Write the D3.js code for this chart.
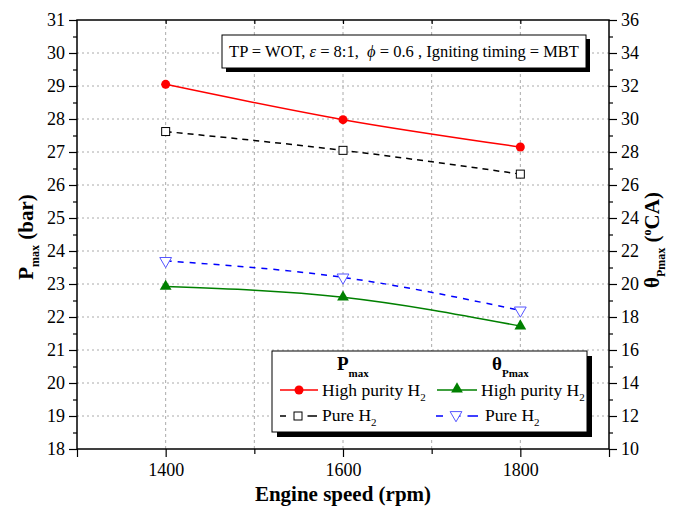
<!DOCTYPE html>
<html><head><meta charset="utf-8">
<script src="https://cdn.jsdelivr.net/npm/d3@7"></script>
<style>body{margin:0;background:#fff;} svg text{font-family:"Liberation Serif","Times New Roman",serif !important;}</style>
</head><body>
<svg id="c" width="673" height="506"></svg>
<script>
const speeds = [1400, 1600, 1800];
const pmaxHigh = [29.05, 27.98, 27.15];
const pmaxPure = [27.62, 27.05, 26.33];
const thetaHigh = [19.85, 19.2, 17.45];
const thetaPure = [21.4, 20.4, 18.4];
const xTickLabels = [1400, 1600, 1800];
const leftTicks = d3.range(18, 32, 1);
const rightTicks = d3.range(10, 37, 2);

const svg = d3.select("#c");
const L = 77, R = 609, T = 20, B = 449;
const x = d3.scaleLinear().domain([1300, 1900]).range([L, R]);
const yL = d3.scaleLinear().domain([18, 31]).range([B, T]);
const yR = d3.scaleLinear().domain([10, 36]).range([B, T]);

// grid
const g = svg.append("g");
g.selectAll(".gh").data(d3.range(19, 31)).enter().append("line")
  .attr("x1", L).attr("x2", R).attr("y1", d => yL(d)).attr("y2", d => yL(d))
  .attr("stroke", "#aaa").attr("stroke-width", 1).attr("stroke-dasharray", "2,3");
g.selectAll(".gv").data(d3.range(1400, 1900, 100)).enter().append("line")
  .attr("y1", T).attr("y2", B).attr("x1", d => x(d)).attr("x2", d => x(d))
  .attr("stroke", "#aaa").attr("stroke-width", 1).attr("stroke-dasharray", "3,3");

// annotation box
const ab = {x: 222, y: 35, w: 364, h: 33};
svg.append("rect").attr("x", ab.x + 4).attr("y", ab.y + 4).attr("width", ab.w).attr("height", ab.h).attr("fill", "#000");
svg.append("rect").attr("x", ab.x).attr("y", ab.y).attr("width", ab.w).attr("height", ab.h).attr("fill", "#fff").attr("stroke", "#000").attr("stroke-width", 1);
const at = svg.append("text").attr("x", ab.x + ab.w / 2).attr("y", ab.y + 22).attr("text-anchor", "middle").attr("font-size", 16.5).attr("xml:space", "preserve").style("white-space", "pre");
at.append("tspan").text("TP = WOT, ");
at.append("tspan").attr("font-style", "italic").text("ε");
at.append("tspan").text(" = 8:1,  ");
at.append("tspan").attr("font-style", "italic").text("ϕ");
at.append("tspan").text(" = 0.6 , Igniting timing = MBT");

// lines
const lineL = d3.line().x((d, i) => x(speeds[i])).y(d => yL(d)).curve(d3.curveMonotoneX);
const lineR = d3.line().x((d, i) => x(speeds[i])).y(d => yR(d)).curve(d3.curveMonotoneX);
svg.append("path").attr("d", lineL(pmaxHigh)).attr("fill", "none").attr("stroke", "#ff0000").attr("stroke-width", 1.5);
svg.append("path").attr("d", lineL(pmaxPure)).attr("fill", "none").attr("stroke", "#000").attr("stroke-width", 1.5).attr("stroke-dasharray", "6,5");
svg.append("path").attr("d", lineR(thetaHigh)).attr("fill", "none").attr("stroke", "#008000").attr("stroke-width", 1.5);
svg.append("path").attr("d", lineR(thetaPure)).attr("fill", "none").attr("stroke", "#0000ff").attr("stroke-width", 1.5).attr("stroke-dasharray", "6,6");

const tri = d3.symbol().type(d3.symbolTriangle).size(60);
function circ(sel, cx, cy) { sel.append("circle").attr("cx", cx).attr("cy", cy).attr("r", 4.5).attr("fill", "#ff0000"); }
function sq(sel, cx, cy) { sel.append("rect").attr("x", cx - 4).attr("y", cy - 4).attr("width", 8).attr("height", 8).attr("fill", "#fff").attr("stroke", "#000").attr("stroke-width", 1); }
function up(sel, cx, cy) { sel.append("path").attr("d", tri()).attr("transform", `translate(${cx},${cy})`).attr("fill", "#008000"); }
function down(sel, cx, cy) { sel.append("path").attr("d", tri()).attr("transform", `translate(${cx},${cy}) rotate(180)`).attr("fill", "#fff").attr("stroke", "#5555ff").attr("stroke-width", 1); }
pmaxHigh.forEach((v, i) => circ(svg, x(speeds[i]), yL(v)));
pmaxPure.forEach((v, i) => sq(svg, x(speeds[i]), yL(v)));
thetaHigh.forEach((v, i) => up(svg, x(speeds[i]), yR(v)));
thetaPure.forEach((v, i) => down(svg, x(speeds[i]), yR(v)));

// legend
const lb = {x: 272, y: 351, w: 315, h: 81};
svg.append("rect").attr("x", lb.x + 5).attr("y", lb.y + 5).attr("width", lb.w).attr("height", lb.h).attr("fill", "#000");
svg.append("rect").attr("x", lb.x).attr("y", lb.y).attr("width", lb.w).attr("height", lb.h).attr("fill", "#fff").attr("stroke", "#000").attr("stroke-width", 1);
const lg = svg.append("g");
function hdr(xs, main, sub) {
  const t = lg.append("text").attr("x", xs).attr("y", 370).attr("font-weight", "bold").attr("font-size", 19);
  t.append("tspan").text(main);
  t.append("tspan").attr("font-size", 11).attr("dy", 7).text(sub);
}
hdr(337, "P", "max");
hdr(492, "θ", "Pmax");
function label(xp, yp, txt) {
  const t = lg.append("text").attr("x", xp).attr("y", yp).attr("font-size", 17.5).attr("fill", "#000");
  t.append("tspan").text(txt);
  t.append("tspan").attr("font-size", 11).attr("dy", 5).text("2");
}
lg.append("line").attr("x1", 280).attr("x2", 318).attr("y1", 390).attr("y2", 390).attr("stroke", "#ff0000").attr("stroke-width", 1.5);
circ(lg, 299, 390);
label(322, 396, "High purity H");
lg.append("line").attr("x1", 437).attr("x2", 477).attr("y1", 390).attr("y2", 390).attr("stroke", "#008000").attr("stroke-width", 1.5);
up(lg, 457, 389);
label(481, 396, "High purity H");
lg.append("line").attr("x1", 280).attr("x2", 318).attr("y1", 416).attr("y2", 416).attr("stroke", "#000").attr("stroke-width", 1.5).attr("stroke-dasharray", "6,9.5,6");
sq(lg, 298, 416);
label(322, 421, "Pure H");
lg.append("line").attr("x1", 436).attr("x2", 478).attr("y1", 416).attr("y2", 416).attr("stroke", "#0000ff").attr("stroke-width", 1.5).attr("stroke-dasharray", "7,10.5,7");
down(lg, 456, 415);
label(485, 421, "Pure H");

// frame
svg.append("rect").attr("x", L).attr("y", T).attr("width", R - L).attr("height", B - T).attr("fill", "none").attr("stroke", "#000").attr("stroke-width", 1.5);

// axes
svg.append("g").attr("transform", `translate(${L},0)`)
  .call(d3.axisLeft(yL).tickValues(leftTicks).tickSize(8).tickPadding(4).tickFormat(d3.format("d")));
svg.append("g").attr("transform", `translate(${L},0)`)
  .call(d3.axisLeft(yL).tickValues(d3.range(18.5, 31, 1)).tickSize(4).tickFormat(""));
svg.append("g").attr("transform", `translate(${R},0)`)
  .call(d3.axisRight(yR).tickValues(rightTicks).tickSize(8).tickPadding(4).tickFormat(d3.format("d")));
svg.append("g").attr("transform", `translate(${R},0)`)
  .call(d3.axisRight(yR).tickValues(d3.range(11, 36, 2)).tickSize(4).tickFormat(""));
const axB = svg.append("g").attr("transform", `translate(0,${B})`)
  .call(d3.axisBottom(x).tickValues([1300].concat(xTickLabels).concat([1900])).tickSize(8).tickFormat(d => xTickLabels.includes(d) ? d : ""));
svg.append("g").attr("transform", `translate(0,${B})`)
  .call(d3.axisBottom(x).tickValues([1500, 1700]).tickSize(5).tickFormat(""));
svg.append("g").attr("transform", `translate(0,${T})`)
  .call(d3.axisBottom(x).tickValues(d3.range(1400, 1900, 100)).tickSize(4).tickFormat(""));
svg.selectAll(".domain").remove();
svg.selectAll("g").attr("font-family", null);
svg.selectAll(".tick line").attr("stroke", "#000").attr("stroke-width", 1.2);
svg.selectAll(".tick text").style("font-family", "'Liberation Serif', serif").style("font-size", "18px").attr("fill", "#000");
axB.selectAll(".tick text").attr("dy", "0.9em");

// axis titles
svg.append("text").attr("x", 343).attr("y", 501).attr("text-anchor", "middle").attr("font-weight", "bold").attr("font-size", 21).text("Engine speed (rpm)");
const tl = svg.append("text").attr("transform", "translate(33,237) rotate(-90)").attr("text-anchor", "middle").attr("font-weight", "bold").attr("font-size", 21);
tl.append("tspan").text("P");
tl.append("tspan").attr("font-size", 12).attr("dy", 6).text("max");
tl.append("tspan").attr("dy", -6).text(" (bar)");
const tr = svg.append("text").attr("transform", "translate(659,240) rotate(-90)").attr("text-anchor", "middle").attr("font-size", 21).attr("font-weight", "bold");
tr.append("tspan").text("θ");
tr.append("tspan").attr("font-size", 12).attr("dy", 6).text("Pmax");
tr.append("tspan").attr("dy", -6).text(" (");
tr.append("tspan").attr("font-size", 12).attr("dy", -8).text("o");
tr.append("tspan").attr("dy", 8).text("CA)");
</script>
</body></html>
